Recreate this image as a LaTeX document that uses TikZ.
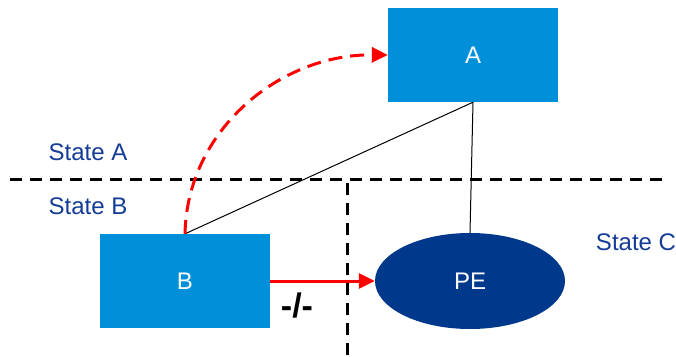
\documentclass[tikz,border=0pt]{standalone}
\usepackage{fontspec}
\setmainfont{Liberation Sans}
\usetikzlibrary{shapes.geometric,arrows.meta}
\definecolor{boxblue}{RGB}{0,144,218}
\definecolor{peblue}{RGB}{0,56,140}
\definecolor{statetext}{RGB}{20,60,150}
\tikzset{
  statebox/.style={fill=boxblue,draw=none,minimum width=170pt,minimum height=94pt,text=white,font=\fontsize{24}{28}\selectfont},
  statelabel/.style={text=statetext,font=\fontsize{24}{28}\selectfont},
  border/.style={line width=3pt,dash pattern=on 12pt off 8pt},
  move/.style={red,line width=3pt,-{Triangle[length=16pt,width=15pt]}}
}
\begin{document}
\begin{tikzpicture}[x=1pt,y=-1pt]
\useasboundingbox (0,0) rectangle (676,356);
% borders between the states
\coordinate (hl) at (10,179);
\coordinate (hr) at (662,179);
\coordinate (vt) at (347,183);
\coordinate (vb) at (347,356);
\draw[border] (hl) -- (hr);
\draw[border] (vt) -- (vb);
\node[statelabel] (sa) at (88,152) {State A};
\node[statelabel] (sb) at (88,206) {State B};
\node[statelabel] (sc) at (636,242) {State C};
% nodes
\node[statebox] (a) at (473,55) {A};
\node[statebox] (b) at (185,281) {B};
\node[ellipse,fill=peblue,minimum width=190pt,minimum height=96pt,inner sep=0pt,text=white,font=\fontsize{24}{28}\selectfont] (pe) at (470,281) {PE};
% links
\draw[line width=1pt] (a.south) -- (b.north);
\draw[line width=1pt] (a.south) -- (pe.north);
\draw[move,dash pattern=on 14pt off 8pt] (b.north) .. controls (187,130) and (280,54) .. (a.west);
\draw[move] (b.east) -- (pe.west);
\node[font=\fontsize{34}{40}\selectfont\bfseries] (nt) at (297,306) {-/-};
\end{tikzpicture}
\end{document}
